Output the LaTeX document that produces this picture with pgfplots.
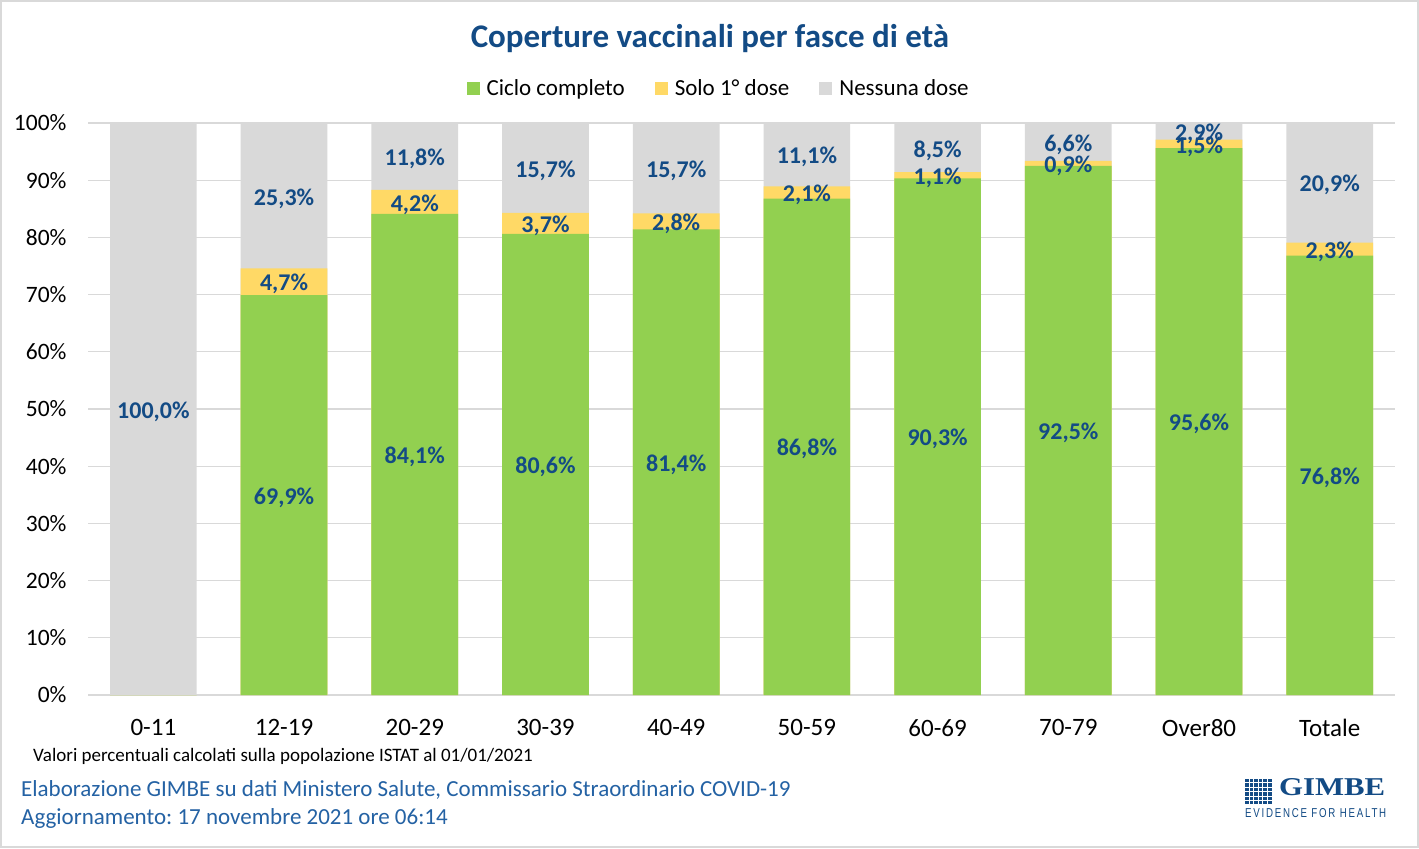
\documentclass[border=0pt]{standalone}
\usepackage{fontspec}
\setmainfont{Carlito}
\newfontfamily\logoserif{Liberation Serif}
\newfontfamily\logosans[LetterSpace=18]{Liberation Sans}
\usepackage{graphicx}
\usepackage{pgfplots}
\pgfplotsset{compat=1.18}
\definecolor{cgreen}{HTML}{92D050}
\definecolor{cyellow}{HTML}{FFD966}
\definecolor{cgray}{HTML}{D9D9D9}
\definecolor{lblue}{HTML}{134B85}
\definecolor{fblue}{HTML}{2462A4}
\definecolor{framec}{HTML}{D9D9D9}
\frenchspacing
\begin{document}
\begin{tikzpicture}[x=1bp,y=1bp]
\fill[white] (0,0) rectangle (1419,-848);
\draw[framec, line width=2bp] (1,-1) rectangle (1418,-847);
\begin{axis}[
  at={(88bp,-695bp)}, anchor=south west,
  scale only axis, width=1307bp, height=572bp,
  xmin=-0.5, xmax=9.5, ymin=0, ymax=100,
  axis line style={draw=none},
  tick style={draw=none},
  ymajorgrids, grid style={cgray, line width=1.3bp},
  ytick={0,10,...,100},
  yticklabels={0\%,10\%,20\%,30\%,40\%,50\%,60\%,70\%,80\%,90\%,100\%},
  xtick={0,...,9},
  xticklabels={0-11,12-19,20-29,30-39,40-49,50-59,60-69,70-79,Over80,Totale},
  yticklabel style={font=\fontsize{23.5bp}{28bp}\selectfont, anchor=east, xshift=-18bp},
  xticklabel style={font=\fontsize{25bp}{30bp}\selectfont, anchor=north, yshift=-21bp},
  legend style={at={(0.4825,1.061)}, anchor=center, draw=none, fill=none,
    legend columns=3, font=\fontsize{23bp}{27bp}\selectfont,
    /tikz/every odd column/.append style={column sep=5bp},
    /tikz/every even column/.append style={column sep=28bp}},
  legend image code/.code={\fill[#1, draw=none] (0bp,-6.5bp) rectangle (13bp,6.5bp);},
]
\addplot[ybar, bar width=0.663, bar shift=0pt, fill=cgray, draw=none, forget plot]
  coordinates {(0,100) (1,99.9) (2,100.1) (3,100) (4,99.9) (5,100) (6,99.9) (7,100) (8,100) (9,100)};
\addplot[ybar, bar width=0.663, bar shift=0pt, fill=cyellow, draw=none, forget plot]
  coordinates {(0,0) (1,74.6) (2,88.3) (3,84.3) (4,84.2) (5,88.9) (6,91.4) (7,93.4) (8,97.1) (9,79.1)};
\addplot[ybar, bar width=0.663, bar shift=0pt, fill=cgreen, draw=none, forget plot]
  coordinates {(0,0) (1,69.9) (2,84.1) (3,80.6) (4,81.4) (5,86.8) (6,90.3) (7,92.5) (8,95.6) (9,76.8)};
\addplot[forget plot, draw=none, mark=none, nodes near coords, point meta=explicit symbolic,
  every node near coord/.append style={anchor=center, inner sep=0pt, text=lblue, yshift=-2.5bp,
    font=\bfseries\fontsize{24bp}{28bp}\selectfont}]
  table[x=x, y=y, meta=l] {
x y l
0 50 100,0\%
1 34.95 69,9\%
1 72.25 4,7\%
1 87.25 25,3\%
2 42.05 84,1\%
2 86.2 4,2\%
2 94.2 11,8\%
3 40.3 80,6\%
3 82.45 3,7\%
3 92.15 15,7\%
4 40.7 81,4\%
4 82.8 2,8\%
4 92.05 15,7\%
5 43.4 86,8\%
5 87.85 2,1\%
5 94.45 11,1\%
6 45.15 90,3\%
6 90.85 1,1\%
6 95.65 8,5\%
7 46.25 92,5\%
7 92.95 0,9\%
7 96.7 6,6\%
8 47.8 95,6\%
8 96.35 1,5\%
8 98.55 2,9\%
9 38.4 76,8\%
9 77.95 2,3\%
9 89.55 20,9\%
};
\addlegendimage{fill=cgreen, draw=none}
\addlegendentry{Ciclo completo}
\addlegendimage{fill=cyellow, draw=none}
\addlegendentry{Solo 1° dose}
\addlegendimage{fill=cgray, draw=none}
\addlegendentry{Nessuna dose}
\end{axis}
\node[font=\bfseries\fontsize{33bp}{38bp}\selectfont, text=lblue, inner sep=0pt] at (710,-39) {Coperture vaccinali per fasce di età};
\node[anchor=west, inner sep=0pt, font=\fontsize{19bp}{22bp}\selectfont] at (33,-756) {Valori percentuali calcolati sulla popolazione ISTAT al 01/01/2021};
\node[anchor=west, inner sep=0pt, text=fblue, font=\fontsize{23bp}{27bp}\selectfont] at (21,-790) {Elaborazione GIMBE su dati Ministero Salute, Commissario Straordinario COVID-19};
\node[anchor=west, inner sep=0pt, text=fblue, font=\fontsize{23bp}{27bp}\selectfont] at (21,-818) {Aggiornamento: 17 novembre 2021 ore 06:14};
\foreach \i in {0,...,5} {\foreach \j in {0,...,5} {\fill[lblue] (1245+\i*4.6, -779-\j*4.4) rectangle ++(3.5,-3.4);}}
\node[anchor=south west, inner sep=0pt, text=lblue] at (1279,-796) {\resizebox{106bp}{17bp}{\logoserif\bfseries GIMBE}};
\node[anchor=north west, inner sep=0pt, text=lblue] at (1245,-808) {\resizebox{141bp}{9bp}{\logosans EVIDENCE FOR HEALTH}};
\end{tikzpicture}
\end{document}
